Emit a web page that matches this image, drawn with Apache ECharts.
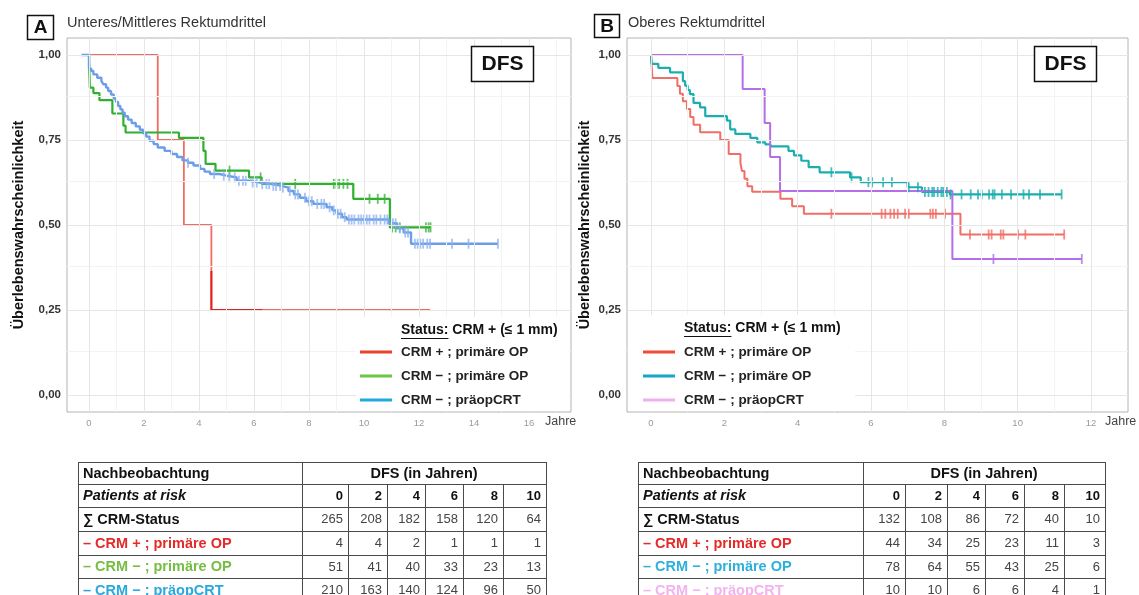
<!DOCTYPE html>
<html><head><meta charset="utf-8">
<script src="https://cdn.jsdelivr.net/npm/echarts@6/dist/echarts.min.js"></script>
<style>html,body{margin:0;padding:0;background:#fff}#c{width:1139px;height:595px}</style>
</head><body><div id="c"></div>
<script>
const FONT = '"Liberation Sans", Arial, sans-serif';

// ---------------- DATA ----------------
const groupNames = ['CRM + ; primäre OP', 'CRM − ; primäre OP', 'CRM − ; präopCRT'];
const statusLabel = ['Status:', ' CRM + (≤ 1 mm)'];
const panelTitles = ['Unteres/Mittleres Rektumdrittel', 'Oberes Rektumdrittel'];
const panelLetters = ['A', 'B'];
const endpointLabel = 'DFS';
const yAxisTitle = 'Überlebenswahrscheinlichkeit';
const xAxisTitle = 'Jahre';

const xTicksA = [0, 2, 4, 6, 8, 10, 12, 14, 16];
const xMinorA = [1, 3, 5, 7, 9, 11, 13, 15, 17];
const xTicksB = [0, 2, 4, 6, 8, 10, 12];
const xMinorB = [1, 3, 5, 7, 9, 11];
const yTicks = [0, 0.25, 0.5, 0.75, 1];
const yMinor = [0.125, 0.375, 0.625, 0.875];

// Panel A (Unteres/Mittleres Rektumdrittel)
const aRedT = [0, 2.5, 3.45, 4.45, 12.4];
const aRedS = [1, 0.75, 0.5, 0.25, 0.25];
const aRedOverlayT = [4.45, 4.45, 6.3];
const aRedOverlayS = [0.365, 0.25, 0.25];
const aGreenT = [0, 0.01, 0.03, 0.16, 0.38, 0.85, 1.25, 1.33, 3.27, 4.16, 4.24, 4.6, 5.82, 6.28, 9.61, 10.94, 12.42];
const aGreenS = [1.0, 0.961, 0.904, 0.888, 0.867, 0.828, 0.792, 0.772, 0.756, 0.718, 0.68, 0.66, 0.64, 0.621, 0.577, 0.493, 0.493];
const aGreenCens = [5.11, 6.24, 7.5, 8.9, 9.0, 9.1, 9.25, 9.4, 10.2, 10.5, 10.75, 11.02, 11.15, 11.3, 12.25, 12.35, 12.42];
const aBlueT = [-0.27, 0.0, 0.08, 0.16, 0.3, 0.45, 0.52, 0.62, 0.7, 0.8, 0.9, 0.98, 1.06, 1.14, 1.22, 1.3, 1.42, 1.55, 1.7, 1.85, 1.97, 2.08, 2.2, 2.35, 2.5, 2.75, 3.0, 3.2, 3.4, 3.6, 3.8, 4.04, 4.2, 4.4, 4.75, 5.0, 5.37, 5.85, 6.22, 6.7, 7.0, 7.25, 7.45, 7.67, 7.9, 8.16, 8.64, 8.85, 9.0, 9.2, 9.37, 10.9, 11.2, 11.44, 11.71, 14.87];
const aBlueS = [1.0, 0.96, 0.953, 0.943, 0.933, 0.924, 0.914, 0.904, 0.894, 0.884, 0.872, 0.862, 0.85, 0.84, 0.83, 0.82, 0.81, 0.80, 0.79, 0.78, 0.77, 0.76, 0.748, 0.738, 0.728, 0.718, 0.709, 0.70, 0.69, 0.683, 0.675, 0.665, 0.657, 0.65, 0.645, 0.64, 0.63, 0.625, 0.62, 0.615, 0.61, 0.60, 0.59, 0.58, 0.57, 0.562, 0.552, 0.543, 0.533, 0.523, 0.516, 0.505, 0.49, 0.478, 0.445, 0.445];
const aBlueCens = [3.6, 4.55, 4.9, 5.1, 5.3, 5.45, 5.6, 5.7, 5.95, 6.1, 6.3, 6.45, 6.55, 6.7, 6.8, 6.95, 7.05, 7.3, 7.5, 7.6, 7.85, 8.0, 8.1, 8.3, 8.45, 8.55, 8.75, 8.9, 9.05, 9.15, 9.3, 9.45, 9.55, 9.65, 9.8, 9.9, 10.0, 10.1, 10.2, 10.35, 10.45, 10.6, 10.75, 10.85, 11.05, 11.15, 11.3, 11.5, 11.6, 11.85, 11.95, 12.05, 12.15, 12.3, 12.4, 13.2, 13.8, 14.87];

// Panel B (Oberes Rektumdrittel)
const bRedT = [0, 0.04, 0.72, 0.79, 0.87, 0.98, 1.07, 1.16, 1.34, 1.89, 2.12, 2.44, 2.48, 2.55, 2.63, 2.76, 3.53, 3.85, 4.17, 8.44, 11.27];
const bRedS = [1, 0.932, 0.909, 0.886, 0.864, 0.841, 0.818, 0.795, 0.773, 0.75, 0.709, 0.682, 0.659, 0.636, 0.614, 0.598, 0.577, 0.555, 0.533, 0.472, 0.472];
const bRedCens = [4.92, 6.29, 6.39, 6.53, 6.63, 6.73, 6.93, 7.03, 7.62, 7.69, 7.77, 8.02, 8.7, 9.21, 9.29, 9.54, 9.61, 10.01, 10.21, 11.27];
const bTealT = [0, 0.02, 0.2, 0.52, 0.87, 0.93, 1.0, 1.06, 1.16, 1.34, 1.48, 2.07, 2.16, 2.3, 2.71, 2.9, 3.12, 3.26, 3.75, 3.9, 4.1, 4.3, 4.6, 5.43, 5.72, 7.0, 7.39, 8.15, 11.2];
const bTealS = [1, 0.974, 0.962, 0.949, 0.923, 0.91, 0.897, 0.885, 0.859, 0.846, 0.82, 0.807, 0.781, 0.768, 0.756, 0.743, 0.737, 0.731, 0.718, 0.705, 0.689, 0.67, 0.655, 0.64, 0.626, 0.611, 0.597, 0.59, 0.59];
const bTealCens = [4.92, 5.47, 5.93, 6.03, 6.33, 6.57, 7.03, 7.28, 7.47, 7.57, 7.67, 7.72, 7.82, 7.92, 7.97, 8.07, 8.17, 8.47, 8.72, 8.92, 9.02, 9.22, 9.32, 9.37, 9.57, 9.82, 10.16, 10.31, 10.61, 11.2];
const bPurpleT = [0, 2.5, 3.1, 3.25, 3.52, 8.22, 11.75];
const bPurpleS = [1, 0.9, 0.8, 0.7, 0.6, 0.4, 0.4];
const bPurpleCens = [9.34, 11.75];

// Risk tables
const tableHead = ['Nachbeobachtung', 'DFS (in Jahren)'];
const tableRowTitles = ['Patients at risk', '∑ CRM-Status', '– CRM + ; primäre OP', '– CRM − ; primäre OP', '– CRM − ; präopCRT'];
const tableYears = [0, 2, 4, 6, 8, 10];
const aRiskTotal = [265, 208, 182, 158, 120, 64];
const aRiskRed = [4, 4, 2, 1, 1, 1];
const aRiskGreen = [51, 41, 40, 33, 23, 13];
const aRiskBlue = [210, 163, 140, 124, 96, 50];
const bRiskTotal = [132, 108, 86, 72, 40, 10];
const bRiskRed = [44, 34, 25, 23, 11, 3];
const bRiskTeal = [78, 64, 55, 43, 25, 6];
const bRiskPurple = [10, 10, 6, 6, 4, 1];

// ---------------- HELPERS ----------------
function pts(T, S) { return T.map((t, i) => [t, S[i]]); }
function survAt(T, S, t) { let v = S[0]; for (let i = 0; i < T.length; i++) { if (T[i] <= t) v = S[i]; else break; } return v; }
function censPts(C, T, S) { return C.map(t => [t, survAt(T, S, t)]); }
const mctx = document.createElement('canvas').getContext('2d');
function textW(s, font) { mctx.font = font; return mctx.measureText(s).width; }

function txt(x, y, text, font, fill, align, vAlign, z) {
  align = align || 'left'; vAlign = vAlign || 'middle';
  return { type: 'text', x: x, y: y, z: z || 20, silent: true,
    style: { text: text, font: font, fill: fill, align: align, verticalAlign: vAlign, textAlign: align, textVerticalAlign: vAlign } };
}
function ln(x1, y1, x2, y2, stroke, w, z) {
  return { type: 'line', z: z || 20, silent: true, shape: { x1: x1, y1: y1, x2: x2, y2: y2 }, style: { stroke: stroke, lineWidth: w || 1 } };
}
function rect(x, y, w, h, fill, stroke, lw, z) {
  return { type: 'rect', z: z || 20, silent: true, shape: { x: x, y: y, width: w, height: h }, style: { fill: fill, stroke: stroke || null, lineWidth: lw || 0 } };
}

// grid lines through the axes (markLine)
function gridSeries(gi, xMaj, xMin, yMaj, yMin) {
  const d = [];
  xMin.forEach(v => d.push({ xAxis: v, lineStyle: { color: '#f3f3f3', width: 1, type: 'solid' } }));
  yMin.forEach(v => d.push({ yAxis: v, lineStyle: { color: '#f3f3f3', width: 1, type: 'solid' } }));
  xMaj.forEach(v => d.push({ xAxis: v, lineStyle: { color: '#e6e6e6', width: 1, type: 'solid' } }));
  yMaj.forEach(v => d.push({ yAxis: v, lineStyle: { color: '#e6e6e6', width: 1, type: 'solid' } }));
  return { type: 'line', xAxisIndex: gi, yAxisIndex: gi, data: [], z: 1, silent: true,
    markLine: { silent: true, symbol: ['none', 'none'], label: { show: false }, animation: false, data: d } };
}
function kmLine(gi, name, T, S, color, w) {
  return { type: 'line', name: name, xAxisIndex: gi, yAxisIndex: gi, step: 'end', showSymbol: false, z: 3,
    data: pts(T, S), lineStyle: { color: color, width: w || 2 }, itemStyle: { color: color } };
}
function kmCens(gi, C, T, S, color) {
  return { type: 'scatter', xAxisIndex: gi, yAxisIndex: gi, symbol: 'rect', symbolSize: [1.8, 10], z: 4,
    data: censPts(C, T, S), itemStyle: { color: color } };
}

function xAxisDef(gi, min, max, ticks) {
  return { gridIndex: gi, type: 'value', min: min, max: max,
    axisLine: { show: false }, splitLine: { show: false },
    axisTick: { show: true, customValues: ticks, length: 4, lineStyle: { color: '#444', width: 1 } },
    axisLabel: { customValues: ticks, color: '#9a9a9a', fontSize: 9.5, margin: 6, fontFamily: FONT } };
}
function yAxisDef(gi, gap) {
  return { gridIndex: gi, type: 'value', min: -0.05, max: 1.05,
    axisLine: { show: false }, splitLine: { show: false },
    axisTick: { show: true, customValues: yTicks, length: 4, lineStyle: { color: '#444', width: 1 } },
    axisLabel: { customValues: yTicks, color: '#333', fontSize: 11.5, fontWeight: 'bold', margin: 6, fontFamily: FONT,
      formatter: v => v.toFixed(2).replace('.', ',') },
    name: yAxisTitle, nameLocation: 'middle', nameGap: gap, nameRotate: 90,
    nameTextStyle: { color: '#111', fontSize: 14.5, fontWeight: 'bold', fontFamily: FONT } };
}

// ---------------- TABLES (graphic) ----------------
function buildTable(cols, rowsY, rowColors, rowVals) {
  const els = [];
  const c = '#4a4a4a';
  const L = cols[0], R = cols[cols.length - 1];
  rowsY.forEach(y => els.push(ln(L, y + 0.5, R, y + 0.5, c, 1)));
  [cols[0], cols[1], R].forEach(x => els.push(ln(x + 0.5, rowsY[0], x + 0.5, rowsY[rowsY.length - 1], c, 1)));
  for (let i = 2; i < cols.length - 1; i++) els.push(ln(cols[i] + 0.5, rowsY[1], cols[i] + 0.5, rowsY[rowsY.length - 1], c, 1));
  const cy = i => (rowsY[i] + rowsY[i + 1]) / 2 + 0.5;
  const bf = 'bold 14.5px ' + FONT;
  els.push(txt(L + 5, cy(0), tableHead[0], bf, '#111'));
  els.push(txt((cols[1] + R) / 2, cy(0), tableHead[1], bf, '#111', 'center'));
  els.push(txt(L + 5, cy(1), tableRowTitles[0], 'italic bold 14.5px ' + FONT, '#111'));
  tableYears.forEach((v, j) => els.push(txt(cols[j + 2] - 5, cy(1), String(v), 'bold 13px ' + FONT, '#111', 'right')));
  for (let r = 0; r < 4; r++) {
    els.push(txt(L + 5, cy(r + 2), tableRowTitles[r + 1], bf, rowColors[r]));
    rowVals[r].forEach((v, j) => els.push(txt(cols[j + 2] - 5, cy(r + 2), String(v), '13px ' + FONT, '#444', 'right')));
  }
  return els;
}

const rowsY = [462, 484, 507, 531, 555, 578, 602];
const colsA = [78, 302, 348, 387, 425, 463, 503, 546];
const colsB = [638, 863, 905, 947, 985, 1024, 1064, 1105];

// ---------------- COLORS ----------------
const cA = ['#f26b62', '#2fb02f', '#6c9de9'];
const cAcens = ['#f26b62', '#3cb43c', '#8fb3f0'];
const cAleg = ['#e8412f', '#6cc644', '#23a9e1'];
const cAtab = ['#e52a2a', '#76be43', '#29a9df'];
const cB = ['#ef6e66', '#1caeae', '#b56ee8'];
const cBleg = ['#ee4b3c', '#17a7c4', '#eeb0ee'];
const cBtab = ['#e52a2a', '#2db1dc', '#f2b4ee'];

// ---------------- GRAPHICS ----------------
const g = [];
g.push(rect(27.5, 15.5, 26, 24, '#fff', '#111', 1.5));
g.push(txt(40.5, 28, panelLetters[0], 'bold 19px ' + FONT, '#111', 'center'));
g.push(txt(67, 23, panelTitles[0], '14.5px ' + FONT, '#333'));
g.push(rect(594.5, 14.5, 25, 23, '#fff', '#111', 1.5));
g.push(txt(607, 27, panelLetters[1], 'bold 19px ' + FONT, '#111', 'center'));
g.push(txt(628, 23, panelTitles[1], '14.5px ' + FONT, '#333'));
g.push(rect(471.5, 46.5, 62, 35, '#fff', '#111', 1.5));
g.push(txt(502.5, 64.5, endpointLabel, 'bold 21px ' + FONT, '#111', 'center'));
g.push(rect(1034.5, 46.5, 62, 35, '#fff', '#111', 1.5));
g.push(txt(1065.5, 64.5, endpointLabel, 'bold 21px ' + FONT, '#111', 'center'));
// x-axis titles
g.push(txt(545, 422, xAxisTitle, '12.5px ' + FONT, '#444'));
g.push(txt(1105, 422, xAxisTitle, '12.5px ' + FONT, '#444'));
// legend backgrounds and status headers
g.push(rect(356, 317, 213, 94, '#fff', null, 0, 10));
g.push(rect(629, 315, 226, 96, '#fff', null, 0, 10));
const sf = 'bold 14px ' + FONT;
const sw = textW(statusLabel[0], sf);
g.push(txt(401, 330, statusLabel[0], sf, '#111'));
g.push(txt(401 + sw, 330, statusLabel[1], sf, '#111'));
g.push(ln(401, 338.5, 401 + sw, 338.5, '#111', 1));
g.push(txt(684, 328, statusLabel[0], sf, '#111'));
g.push(txt(684 + sw, 328, statusLabel[1], sf, '#111'));
g.push(ln(684, 336.5, 684 + sw, 336.5, '#111', 1));
buildTable(colsA, rowsY, ['#111'].concat(cAtab), [aRiskTotal, aRiskRed, aRiskGreen, aRiskBlue]).forEach(e => g.push(e));
buildTable(colsB, rowsY, ['#111'].concat(cBtab), [bRiskTotal, bRiskRed, bRiskTeal, bRiskPurple]).forEach(e => g.push(e));

function legendDef(left, top, colors) {
  return { left: left, top: top, orient: 'vertical', icon: 'rect', itemWidth: 32, itemHeight: 3, itemGap: 10,
    padding: 0, z: 20, selectedMode: false,
    textStyle: { fontFamily: FONT, fontSize: 13.5, fontWeight: 'bold', color: '#222', padding: [0, 0, 0, 4] },
    data: groupNames.map((n, i) => ({ name: n, itemStyle: { color: colors[i] } })) };
}

const option = {
  animation: false,
  backgroundColor: '#fff',
  grid: [
    { left: 67, top: 38, width: 504, height: 374, show: true, borderColor: '#b4b4b4', borderWidth: 1, backgroundColor: '#fff' },
    { left: 627, top: 38, width: 501, height: 374, show: true, borderColor: '#b4b4b4', borderWidth: 1, backgroundColor: '#fff' }
  ],
  xAxis: [xAxisDef(0, -0.8, 17.527, xTicksA), xAxisDef(1, -0.654, 13.01, xTicksB)],
  yAxis: [yAxisDef(0, 41), yAxisDef(1, 35)],
  legend: [legendDef(360, 345, cAleg), legendDef(643, 345, cBleg)],
  series: [
    gridSeries(0, xTicksA, xMinorA, yTicks, yMinor),
    gridSeries(1, xTicksB, xMinorB, yTicks, yMinor),
    kmLine(0, groupNames[0], aRedT, aRedS, cA[0], 1.8),
    { type: 'line', xAxisIndex: 0, yAxisIndex: 0, showSymbol: false, z: 3, data: pts(aRedOverlayT, aRedOverlayS), lineStyle: { color: '#e0231d', width: 2 } },
    kmLine(0, groupNames[1], aGreenT, aGreenS, cA[1], 2.2),
    kmLine(0, groupNames[2], aBlueT, aBlueS, cA[2], 2.4),
    kmCens(0, aGreenCens, aGreenT, aGreenS, cAcens[1]),
    kmCens(0, aBlueCens, aBlueT, aBlueS, cAcens[2]),
    kmLine(1, groupNames[0], bRedT, bRedS, cB[0], 2),
    kmLine(1, groupNames[1], bTealT, bTealS, cB[1], 2.2),
    kmLine(1, groupNames[2], bPurpleT, bPurpleS, cB[2], 2),
    kmCens(1, bRedCens, bRedT, bRedS, cB[0]),
    kmCens(1, bTealCens, bTealT, bTealS, cB[1]),
    kmCens(1, bPurpleCens, bPurpleT, bPurpleS, cB[2])
  ],
  graphic: { elements: g }
};

const chart = echarts.init(document.getElementById('c'), null, { renderer: 'canvas' });
chart.setOption(option);
</script>
</body></html>
